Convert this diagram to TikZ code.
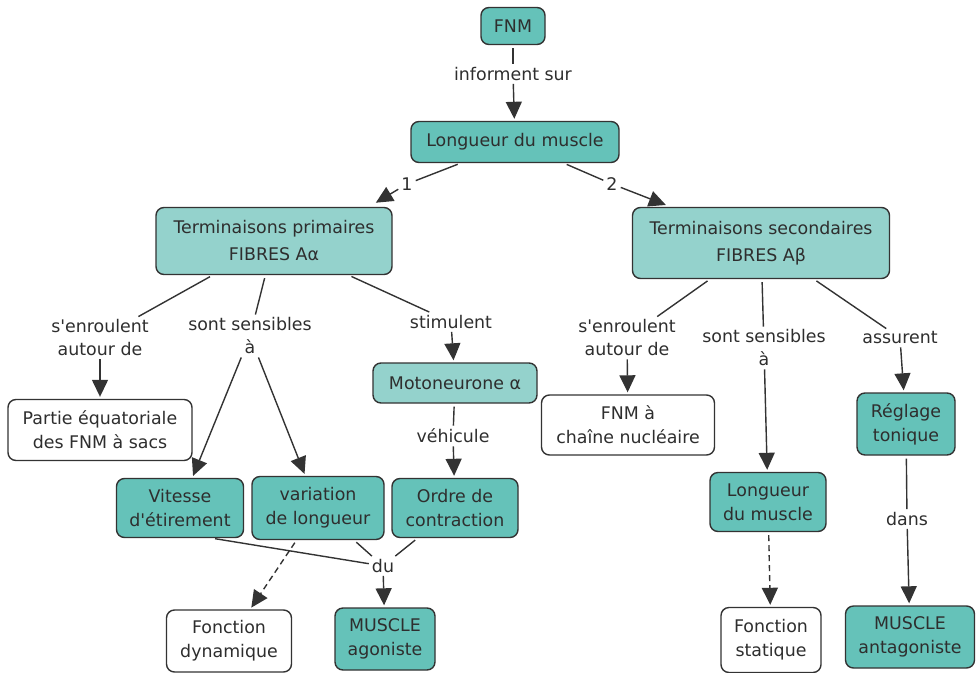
\documentclass[tikz,border=0pt]{standalone}
\usepackage{fontspec}
\setmainfont{DejaVu Sans}
\usetikzlibrary{arrows.meta,calc}
\definecolor{tealc}{HTML}{65C2B9}
\definecolor{palec}{HTML}{94D2CC}
\definecolor{linec}{HTML}{333333}
\definecolor{txt}{HTML}{2E2E2E}

\begin{document}
\begin{tikzpicture}[x=1pt,y=-1pt,
  box/.style={draw=linec, line width=1.4pt, rounded corners=8pt, align=center,
    text=txt, font=\fontsize{17.4}{24}\selectfont, inner sep=2pt},
  dark/.style={box, fill=tealc},
  light/.style={box, fill=palec},
  blank/.style={box, fill=white},
  lab/.style={align=center, text=txt, font=\fontsize{17.4}{23}\selectfont, inner sep=3pt},
  wire/.style={draw=linec, line width=1.4pt},
  stem/.style={wire, shorten <=3pt},
  arr/.style={wire, -{Triangle[width=16pt,length=17pt]}, shorten >=2pt},
  darr/.style={arr, shorten <=3pt, dash pattern=on 6pt off 4pt},
]
\useasboundingbox (0,0) rectangle (979,672);

% concepts
\node[dark, minimum width=64, minimum height=37] (fnm) at (513,26) {FNM};
\node[dark, minimum width=208, minimum height=41] (lm) at (515,142) {Longueur du muscle};
\node[light, minimum width=236, minimum height=67, font=\fontsize{17.4}{27}\selectfont] (tp) at (274,241) {Terminaisons primaires\\FIBRES Aα};
\node[light, minimum width=257, minimum height=71, font=\fontsize{17.4}{27}\selectfont] (ts) at (761,243) {Terminaisons secondaires\\FIBRES Aβ};
\node[light, minimum width=164, minimum height=40] (mot) at (455,383) {Motoneurone α};
\node[blank, minimum width=184, minimum height=61] (peq) at (100,430) {Partie équatoriale\\des FNM à sacs};
\node[dark, minimum width=127, minimum height=59] (vit) at (180,508) {Vitesse\\d\textquotesingle étirement};
\node[dark, minimum width=132, minimum height=63] (var) at (318,508) {variation\\de longueur};
\node[dark, minimum width=126, minimum height=59] (ord) at (455,508) {Ordre de\\contraction};
\node[blank, minimum width=125, minimum height=62] (fdy) at (229,641) {Fonction\\dynamique};
\node[dark, minimum width=100, minimum height=62] (mag) at (385,639) {MUSCLE\\agoniste};
\node[blank, minimum width=173, minimum height=60] (fch) at (628,425) {FNM à\\chaîne nucléaire};
\node[dark, minimum width=98, minimum height=62] (reg) at (906,424) {Réglage\\tonique};
\node[dark, minimum width=116, minimum height=59] (lm2) at (768,502) {Longueur\\du muscle};
\node[blank, minimum width=100, minimum height=65] (fst) at (771,640) {Fonction\\statique};
\node[dark, minimum width=129, minimum height=62] (mant) at (910,637) {MUSCLE\\antagoniste};

% link phrases
\node[lab] (inf) at (513,74) {informent sur};
\node[lab] (n1) at (407,184) {1};
\node[lab] (n2) at (612,184) {2};
\node[lab] (e1) at (100,338) {s\textquotesingle enroulent\\autour de};
\node[lab] (s1) at (250,336) {sont sensibles\\à};
\node[lab] (st) at (451,322) {stimulent};
\node[lab] (veh) at (453,436) {véhicule};
\node[lab] (du) at (383,566) {du};
\node[lab] (e2) at (627,338) {s\textquotesingle enroulent\\autour de};
\node[lab] (s2) at (764,348) {sont sensibles\\à};
\node[lab] (as) at (900,338) {assurent};
\node[lab] (dans) at (907,519) {dans};

% top
\draw[stem] (fnm) -- (inf);
\draw[arr] (inf) -- (lm);
\draw[stem] (lm) -- (n1);
\draw[arr, shorten >=8pt] (n1) -- ($(tp.north)!0.8!(tp.north east)$);
\draw[stem] (lm) -- (n2);
\draw[arr, shorten >=5pt] (n2) -- ($(ts.north west)!0.15!(ts.north east)$);

% primary endings
\draw[stem] (tp) -- (e1);
\draw[arr] (e1) -- (peq);
\draw[stem] (tp) -- (s1);
\draw[arr] (s1) -- (vit);
\draw[arr] (s1) -- (var);
\draw[stem] (tp) -- (st);
\draw[arr] (st) -- (mot);
\draw[stem] (mot) -- (veh);
\draw[arr] (veh) -- (ord);
\draw[stem] ($(vit.south)!0.5!(vit.south east)$) -- (du);
\draw[stem] (var) -- (du);
\draw[stem] (ord) -- (du);
\draw[arr] (du) -- (mag);
\draw[darr] (var) -- (fdy);

% secondary endings
\draw[stem] (ts) -- (e2);
\draw[arr] (e2) -- (fch);
\draw[stem] (ts) -- (s2);
\draw[arr] (s2) -- (lm2);
\draw[stem] (ts) -- (as);
\draw[arr] (as) -- (reg);
\draw[stem] (reg) -- (dans);
\draw[arr] (dans) -- (mant);
\draw[darr] (lm2) -- (fst);
\end{tikzpicture}
\end{document}
